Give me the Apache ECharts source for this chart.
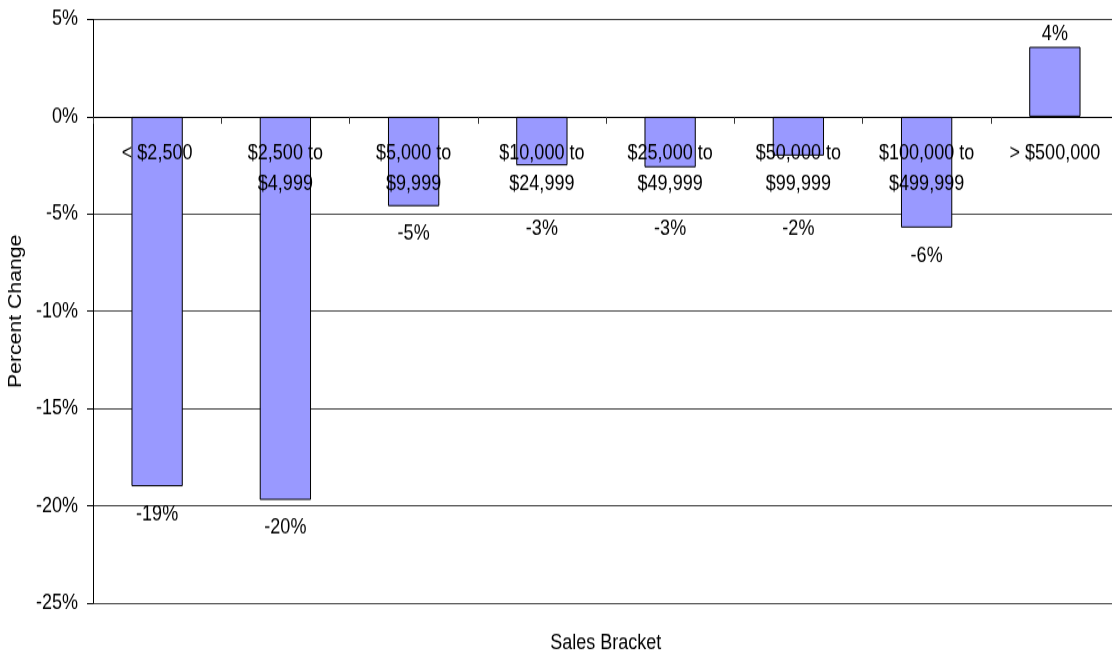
<!DOCTYPE html>
<html>
<head>
<meta charset="utf-8">
<script src="https://cdn.jsdelivr.net/npm/echarts@6/dist/echarts.min.js"></script>
<style>
html,body{margin:0;padding:0;background:#fff;}
#wrap{width:1112px;height:655px;overflow:hidden;background:#fff;}
#chart{width:1112px;height:555px;transform:scaleY(1.18018);transform-origin:0 0;}
</style>
</head>
<body>
<div id="wrap"><div id="chart"></div></div>
<script>
// ---- data ----
const categories = [
  '< $2,500',
  '$2,500 to\n$4,999',
  '$5,000 to\n$9,999',
  '$10,000 to\n$24,999',
  '$25,000 to\n$49,999',
  '$50,000 to\n$99,999',
  '$100,000 to\n$499,999',
  '> $500,000'
];
const percentChange = [-19.0, -19.7, -4.6, -2.5, -2.6, -2.0, -5.7, 3.6];
const yTicks = { min: -25, max: 5, interval: 5 };
const xAxisTitle = 'Sales Bracket';
const yAxisTitle = 'Percent Change';

const FONT = '"Liberation Sans", Arial, Helvetica, sans-serif';

function roundAway(v) {
  return Math.sign(v) * Math.round(Math.abs(v));
}

// the reference is slightly stretched vertically; the chart is drawn in a
// shorter box and stretched with CSS, so vertical sizes are divided by SY
const SY = 655 / 555;
const H = 555;
const gridTop = 19.5 / SY, gridBottom = 52 / SY;
const gridHeight = H - gridTop - gridBottom;
// place the category axis on the zero line of the value axis
const zeroOffset = -gridHeight * (0 - yTicks.min) / (yTicks.max - yTicks.min);

const chart = echarts.init(document.getElementById('chart'), null, { renderer: 'canvas' });

const option = {
  animation: false,
  backgroundColor: '#ffffff',
  textStyle: { fontFamily: FONT, color: '#000' },
  grid: { left: 93, right: -7, top: gridTop, bottom: gridBottom, containLabel: false, outerBoundsMode: 'none' },
  xAxis: {
    type: 'category',
    data: categories,
    z: 5,
    offset: zeroOffset,
    axisLine: { show: true, onZero: false, lineStyle: { color: '#000', width: 1 } },
    axisTick: { show: true, alignWithLabel: false, length: 7 / SY, lineStyle: { color: '#333' } },
    axisLabel: {
      interval: 0,
      fontSize: 18,
      lineHeight: 30.5 / SY,
      color: '#000',
      margin: 22 / SY,
      fontFamily: FONT
    },
    splitLine: { show: false }
  },
  yAxis: {
    type: 'value',
    min: yTicks.min,
    max: yTicks.max,
    interval: yTicks.interval,
    name: yAxisTitle,
    nameLocation: 'middle',
    nameGap: 64,
    nameTextStyle: { fontSize: 18, color: '#000', fontFamily: FONT },
    axisLine: { show: true, lineStyle: { color: '#000', width: 1 } },
    axisTick: { show: true, length: 6, lineStyle: { color: '#000' } },
    axisLabel: {
      formatter: '{value}%',
      fontSize: 18,
      color: '#000',
      margin: 15,
      fontFamily: FONT
    },
    splitLine: { show: true, lineStyle: { color: '#404040', width: 1 } }
  },
  series: [{
    type: 'bar',
    data: percentChange,
    barCategoryGap: '60%',
    itemStyle: { color: '#9999FF', borderColor: '#000', borderWidth: 1 },
    label: {
      show: true,
      fontSize: 18,
      color: '#000',
      fontFamily: FONT,
      formatter: p => roundAway(p.value) + '%'
    },
    labelLayout: function (p) {
      const v = percentChange[p.dataIndex];
      const r = p.rect;
      const cx = r.x + r.width / 2;
      if (v >= 0) {
        return { x: cx, y: r.y - 12 / SY, align: 'center', verticalAlign: 'middle' };
      }
      return {
        x: cx,
        y: Math.max(r.y + r.height + 28 / SY, r.y + 112 / SY),
        align: 'center',
        verticalAlign: 'middle'
      };
    }
  }],
  graphic: [{
    type: 'text',
    x: 605.7,
    y: 643 / SY,
    style: {
      text: xAxisTitle,
      fill: '#000',
      font: '18px ' + FONT,
      align: 'center',
      verticalAlign: 'middle',
      textAlign: 'center',
      textVerticalAlign: 'middle'
    }
  }]
};

chart.setOption(option);
</script>
</body>
</html>
